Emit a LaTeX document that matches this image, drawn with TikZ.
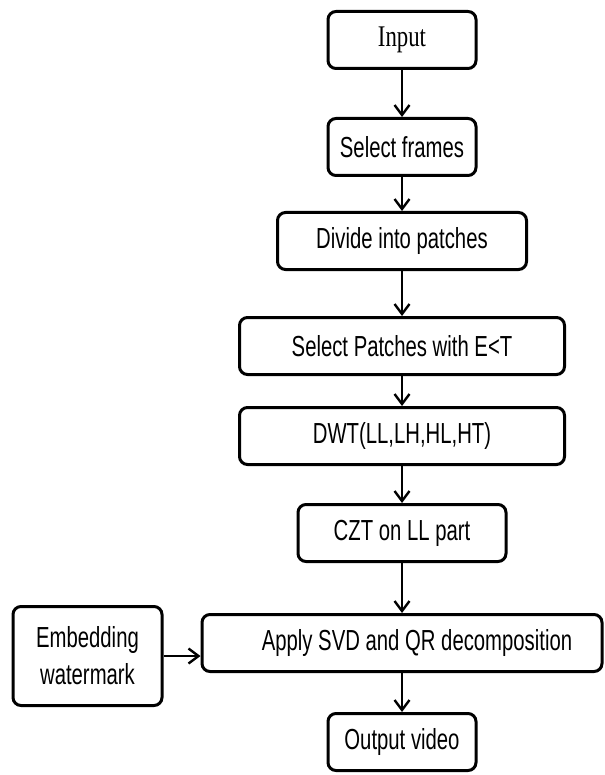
\documentclass[tikz,border=0pt]{standalone}
\usepackage{fontspec}
\setmainfont{Liberation Sans}[FakeStretch=0.70]
\newfontfamily\serifbox{Liberation Serif}[FakeStretch=0.76]
\usetikzlibrary{positioning,arrows.meta}

\tikzset{
  blk/.style={draw,rounded corners=8pt,line width=3pt,minimum height=57pt,
    align=center,inner sep=0pt,font=\fontsize{29}{37}\selectfont},
  flow/.style={-{Straight Barb[length=10pt,width=15pt]},line width=2.4pt},
}

\begin{document}
\begin{tikzpicture}[x=1pt,y=-1pt]
\useasboundingbox (0,0) rectangle (604,775);
% main chain
\node[blk,minimum width=148pt,font=\serifbox\fontsize{30}{35}\selectfont](input) at (402,40){Input};
\node[blk,minimum width=148pt](frames)[below=47pt of input]{Select frames};
\node[blk,minimum width=249pt](divide)[below=34pt of frames]{Divide into patches};
\node[blk,minimum width=325pt](patches)[below=45pt of divide]{Select Patches with E<T};
\node[blk,minimum width=325pt](dwt)[below=30pt of patches]{DWT(LL,LH,HL,HT)};
\node[blk,minimum width=208pt](czt)[below=37pt of dwt]{CZT on LL part};
\node[blk,minimum width=400pt](svd)[below=50pt of czt]{\hspace*{30pt}Apply SVD and QR decomposition};
\node[blk,minimum width=148pt](output)[below=39pt of svd]{Output video};
% side input
\node[blk,minimum width=149pt,minimum height=99pt](embed)[left=37pt of svd,yshift=-13pt]{Embedding\\watermark};

\draw[flow] (input) -- (frames);
\draw[flow] (frames) -- (divide);
\draw[flow] (divide) -- (patches);
\draw[flow] (patches) -- (dwt);
\draw[flow] (dwt) -- (czt);
\draw[flow] (czt) -- (svd);
\draw[flow] (svd) -- (output);
\draw[flow] (embed.east) -- (embed.east -| svd.west);
\end{tikzpicture}
\end{document}
